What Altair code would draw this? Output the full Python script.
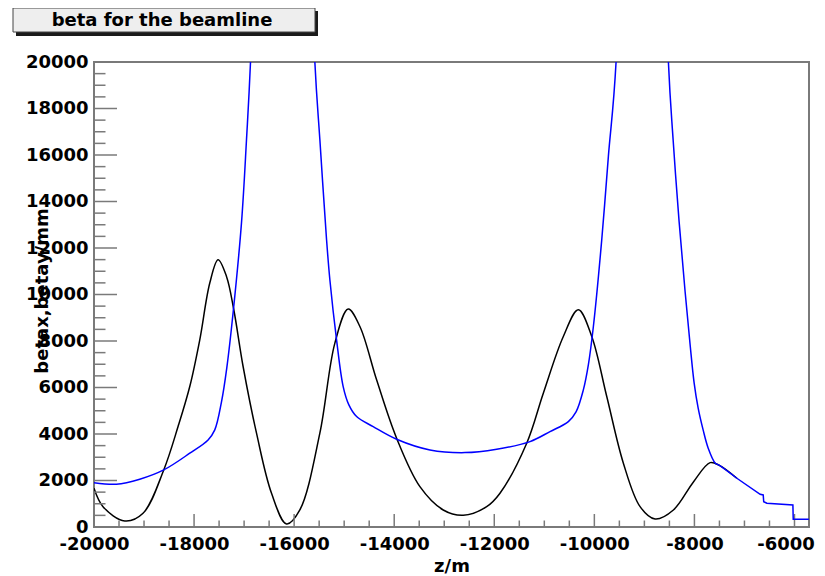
import altair as alt
import pandas as pd

# ---- data ----
black_z = [-20000, -19820, -19386, -19020, -18606, -18320, -18086, -17886, -17686, -17520,
           -17352, -17206, -17020, -16752, -16452, -16152, -15886, -15486, -15186, -14920,
           -14686, -14352, -13952, -13486, -13020, -12620, -12152, -11886, -11352, -11020,
           -10620, -10320, -10052, -9752, -9420, -9086, -8786, -8420, -8020, -7686,
           -7500, -7152]
black_beta = [1666, 874, 258, 590, 2454, 4319, 6041, 8052, 10494, 11497,
              10778, 9344, 6903, 4035, 1451, 129, 732, 4035, 7910, 9374,
              8625, 6330, 3819, 1735, 732, 504, 874, 1451, 3604, 5757,
              8194, 9344, 8194, 5611, 2743, 874, 344, 732, 1938, 2769,
              2650, 2097]

blue_z = [-20000, -19552, -19086, -18606, -18086, -17720, -17586, -17452, -17346, -17220,
          -17052, -16952, -16872, -16230, -15586, -15486, -15352, -15286, -15152, -15020,
          -14906, -14752, -14420, -13952, -13286, -12586, -11952, -11286, -10886, -10520,
          -10366, -10220, -10120, -10020, -9852, -9720, -9566, -9043, -8520, -8426,
          -8306, -8186, -8086, -8006, -7926, -7826, -7726, -7586, -7500, -7152]
blue_beta = [1908, 1839, 2054, 2454, 3173, 3746, 4177, 5383, 6847, 9215,
             13090, 16664, 20000, 60000, 20000, 16664, 12358, 10636, 8052, 6041,
             5253, 4750, 4319, 3776, 3316, 3199, 3346, 3673, 4104, 4534,
             4952, 5899, 6976, 8612, 12358, 15932, 20000, 60000, 20000, 16664,
             13133, 10119, 7837, 6201, 5124, 4177, 3402, 2756, 2650, 2097]

# common tail where both curves coincide (stepped end of the line)
tail_z = [-7152, -6686, -6625, -6615, -6552, -6032, -6025, -5712]
tail_beta = [2097, 1408, 1378, 1089, 1020, 947, 332, 332]

x_major = list(range(-20000, -5999, 2000))
x_minor = [v for v in range(-20000, -5700, 500) if v % 2000 != 0]
y_major = list(range(0, 20001, 2000))
y_minor = [v for v in range(0, 20000, 500) if v % 2000 != 0]

W, H = 715, 465
FONT = "DejaVu Sans"
GREY = "#7a7a7a"

xs = alt.Scale(domain=[-20000, -5710], nice=False, zero=False)
ys = alt.Scale(domain=[0, 20000], nice=False, zero=False)

black_df = pd.DataFrame({"z": black_z, "beta": black_beta})
blue_df = pd.DataFrame({"z": blue_z, "beta": blue_beta})
tail_df = pd.DataFrame({"z": tail_z, "beta": tail_beta})

x_axis = alt.Axis(values=x_major, labelExpr="'' + datum.value", tickSize=0, domain=False,
                  grid=False, labelFont=FONT, labelFontWeight="bold", labelFontSize=18,
                  labelColor="black", labelPadding=8, labelOverlap=False, labelFlush=False,
                  labelOffset={"condition": {"test": "datum.value === -6000", "value": -9},
                               "value": 0},
                  title="z/m", titleFont=FONT, titleFontWeight="bold", titleFontSize=18,
                  titleColor="black", titleBaseline="alphabetic", titleY=44, titleX=W / 2)
y_axis = alt.Axis(values=y_major, labelExpr="'' + datum.value", tickSize=0, domain=False,
                  grid=False, labelFont=FONT, labelFontWeight="bold", labelFontSize=18,
                  labelColor="black", labelPadding=6, labelOverlap=False, labelFlush=False,
                  title="betax,betay/mm", titleFont=FONT, titleFontWeight="bold",
                  titleFontSize=18, titleColor="black", titleBaseline="alphabetic",
                  titleX=-47, titleY=H / 2 - 4, titleAngle=270)

X = lambda f: alt.X(f, scale=xs, axis=x_axis)
Y = lambda f: alt.Y(f, scale=ys, axis=y_axis)

black = alt.Chart(black_df).mark_line(color="black", strokeWidth=1.5, clip=True,
                                      interpolate="catmull-rom").encode(
    x=X("z:Q"), y=Y("beta:Q"))
blue = alt.Chart(blue_df).mark_line(color="#0000ff", strokeWidth=1.5, clip=True,
                                    interpolate="catmull-rom").encode(
    x=X("z:Q"), y=Y("beta:Q"))
tail = alt.Chart(tail_df).mark_line(color="#0000ff", strokeWidth=1.5, clip=True).encode(
    x=X("z:Q"), y=Y("beta:Q"))


def yticks(vals, length):
    return alt.Chart(pd.DataFrame({"v": vals})).mark_rule(color=GREY, strokeWidth=1.5).encode(
        y=Y("v:Q"), x=alt.value(0), x2=alt.value(length))


def xticks(vals, length):
    return alt.Chart(pd.DataFrame({"v": vals})).mark_rule(color=GREY, strokeWidth=1.5).encode(
        x=X("v:Q"), y=alt.value(H), y2=alt.value(H - length))


one = alt.Data(values=[{"k": 1}])
shadow = alt.Chart(one).mark_rect(color="#1a1a1a").encode(
    x=alt.value(-78), x2=alt.value(224), y=alt.value(-51), y2=alt.value(-26))
box = alt.Chart(one).mark_rect(fill="#eeeeee", stroke="#444444", strokeWidth=1).encode(
    x=alt.value(-81), x2=alt.value(221), y=alt.value(-54), y2=alt.value(-30))
title = alt.Chart(one).mark_text(text="beta for the beamline", font=FONT, fontWeight="bold",
                                 fontSize=18, color="black", align="center",
                                 baseline="alphabetic").encode(
    x=alt.value(68), y=alt.value(-36))

chart = alt.layer(
    black,
    yticks(y_major, 23), yticks(y_minor, 11.5),
    xticks(x_major, 13), xticks(x_minor, 6.5),
    blue, tail,
    shadow, box, title,
).properties(
    width=W, height=H,
    autosize=alt.AutoSizeParams(type="none"),
    padding={"left": 86, "top": 54, "right": 8, "bottom": 50},
    background="white",
).configure_view(stroke=GREY, strokeWidth=2)

chart.save("out.html", embed_options={"renderer": "svg", "actions": False})
